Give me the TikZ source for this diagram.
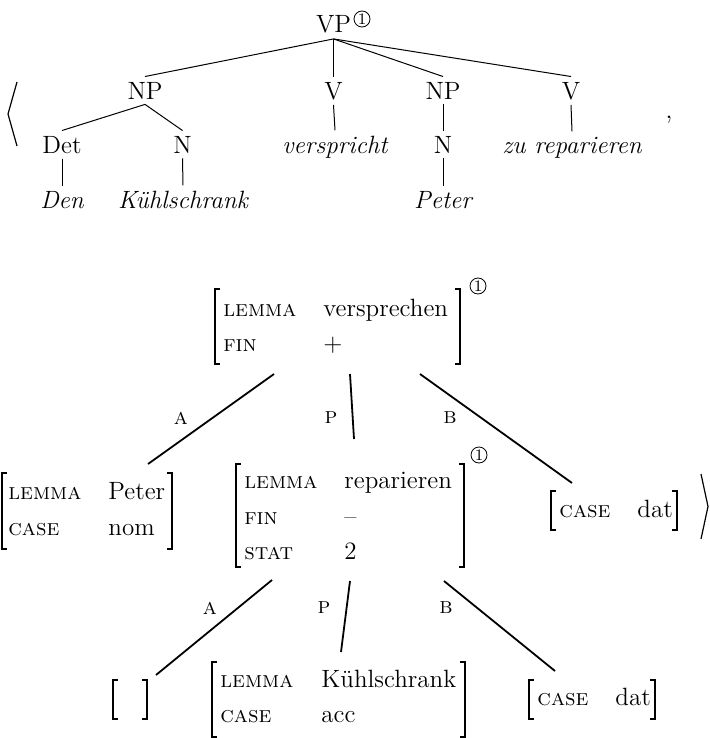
\documentclass[tikz,border=0pt]{standalone}
\usepackage{fontspec}
\newcommand{\avmL}[3]{\draw[brk] (#1+5,#2) -- (#1,#2) -- (#1,#3) -- (#1+5,#3);}
\newcommand{\avmR}[3]{\draw[brk] (#1-5,#2) -- (#1,#2) -- (#1,#3) -- (#1-5,#3);}
\newcommand{\mainfs}{\fontsize{12.5}{15}\selectfont}
\tikzset{
  cat/.style={inner sep=2.5pt, anchor=base},
  wrd/.style={inner sep=2.5pt, anchor=base, font=\mainfs\itshape},
  treeline/.style={line width=0.5pt},
  arcline/.style={line width=0.9pt},
  brk/.style={line width=0.6pt},
  attr/.style={anchor=base west, inner sep=0pt, font=\fontsize{11.5}{14}\selectfont\scshape},
  val/.style={anchor=base west, inner sep=0pt},
  arclab/.style={inner sep=0pt, font=\fontsize{11.5}{14}\selectfont\scshape},
  tag/.style={circle, draw, line width=0.4pt, inner sep=0pt, minimum size=8pt, font=\fontsize{8}{8}\selectfont}
}
\begin{document}
\begin{tikzpicture}[x=0.5pt,y=-0.5pt,font=\mainfs]
\useasboundingbox (0,0) rectangle (709,738);
% ---------- phrase structure tree ----------
\node[cat] (VP) at (333.5,33) {VP};
\node[tag] (tagVP) at (362,19) {1};
\node[cat] (NP1) at (145,99) {NP};
\node[cat] (V1) at (333.5,99) {V};
\node[cat] (NP2) at (443,99) {NP};
\node[cat] (V2) at (571,99) {V};
\node[cat] (Det) at (62,153) {Det};
\node[cat] (N1) at (182.5,153) {N};
\node[wrd] (vers) at (335,153) {verspricht};
\node[cat] (N2) at (443,153) {N};
\node[wrd] (zurep) at (572,153) {zu reparieren};
\node[wrd] (Den) at (62,208) {Den};
\node[wrd] (Kuehl) at (183,208) {Kühlschrank};
\node[wrd] (Peter) at (443,208) {Peter};
\draw[treeline] (VP.south) -- (NP1.north);
\draw[treeline] (VP.south) -- (V1.north);
\draw[treeline] (VP.south) -- (NP2.north);
\draw[treeline] (VP.south) -- (V2.north);
\draw[treeline] (NP1.south) -- (Det.north);
\draw[treeline] (NP1.south) -- (N1.north);
\draw[treeline] (V1.south) -- (vers.north);
\draw[treeline] (NP2.south) -- (N2.north);
\draw[treeline] (V2.south) -- (zurep.north);
\draw[treeline] (Det.south) -- (Den.north);
\draw[treeline] (N1.south) -- (Kuehl.north);
\draw[treeline] (N2.south) -- (Peter.north);
% angle bracket and comma
\draw[line width=0.6pt] (17,82) -- (8,114) -- (17,146);
\node[inner sep=0pt, anchor=base] (comma) at (669,119) {,};
% ---------- AVM: versprechen ----------
\avmL{215}{289}{364}
\avmR{460}{289}{364}
\node[attr] (a1l) at (223,316) {lemma};
\node[val] (v1l) at (323,316) {versprechen};
\node[attr] (a1f) at (223,351) {fin};
\node[val] (v1f) at (323,351) {+};
\node[tag] (tag1) at (478,286) {1};
\coordinate (r1A) at (274,374);
\coordinate (r1P) at (350,374);
\coordinate (r1B) at (420,374);
% ---------- AVM: Peter ----------
\avmL{2}{473}{549}
\avmR{172}{473}{549}
\node[attr] (a2l) at (8,499) {lemma};
\node[val] (v2l) at (108,499) {Peter};
\node[attr] (a2c) at (8,535) {case};
\node[val] (v2c) at (108,535) {nom};
\coordinate (d2) at (148,464);
% ---------- AVM: reparieren ----------
\avmL{236}{464}{567}
\avmR{464}{464}{567}
\node[attr] (a3l) at (244,488) {lemma};
\node[val] (v3l) at (344,488) {reparieren};
\node[attr] (a3f) at (244,524) {fin};
\node[val] (v3f) at (344,524) {–};
\node[attr] (a3s) at (244,559) {stat};
\node[val] (v3s) at (344,559) {2};
\node[tag] (tag3) at (479,455) {1};
\coordinate (d3) at (354,439);
\coordinate (r3A) at (272,580);
\coordinate (r3P) at (350,581);
\coordinate (r3B) at (444,581);
% ---------- AVM: case dat (top) ----------
\avmL{551}{491}{530}
\avmR{677}{491}{530}
\node[attr] (a4c) at (559,517) {case};
\node[val] (v4c) at (637,517) {dat};
\coordinate (d4) at (572,483);
\draw[line width=0.6pt] (701,474) -- (708,506.5) -- (701,539);
% ---------- empty AVM ----------
\avmL{113}{680}{719}
\avmR{147}{680}{719}
\coordinate (d5) at (156,675);
% ---------- AVM: Kühlschrank ----------
\avmL{212}{662}{737}
\avmR{465}{662}{737}
\node[attr] (a6l) at (220,687) {lemma};
\node[val] (v6l) at (321,687) {Kühlschrank};
\node[attr] (a6c) at (220,722) {case};
\node[val] (v6c) at (321,722) {acc};
\coordinate (d6) at (341,652);
% ---------- AVM: case dat (bottom) ----------
\avmL{529}{680}{719}
\avmR{655}{680}{719}
\node[attr] (a7c) at (537,705) {case};
\node[val] (v7c) at (615,705) {dat};
\coordinate (d7) at (555,671);
% ---------- arcs ----------
\draw[arcline] (r1A) -- (d2);
\draw[arcline] (r1P) -- (d3);
\draw[arcline] (r1B) -- (d4);
\draw[arcline] (r3A) -- (d5);
\draw[arcline] (r3P) -- (d6);
\draw[arcline] (r3B) -- (d7);
\node[arclab] (lA1) at (181,418) {a};
\node[arclab] (lP1) at (331,418) {p};
\node[arclab] (lB1) at (450,418) {b};
\node[arclab] (lA2) at (210,608) {a};
\node[arclab] (lP2) at (324,608) {p};
\node[arclab] (lB2) at (446,608) {b};
\end{tikzpicture}
\end{document}
